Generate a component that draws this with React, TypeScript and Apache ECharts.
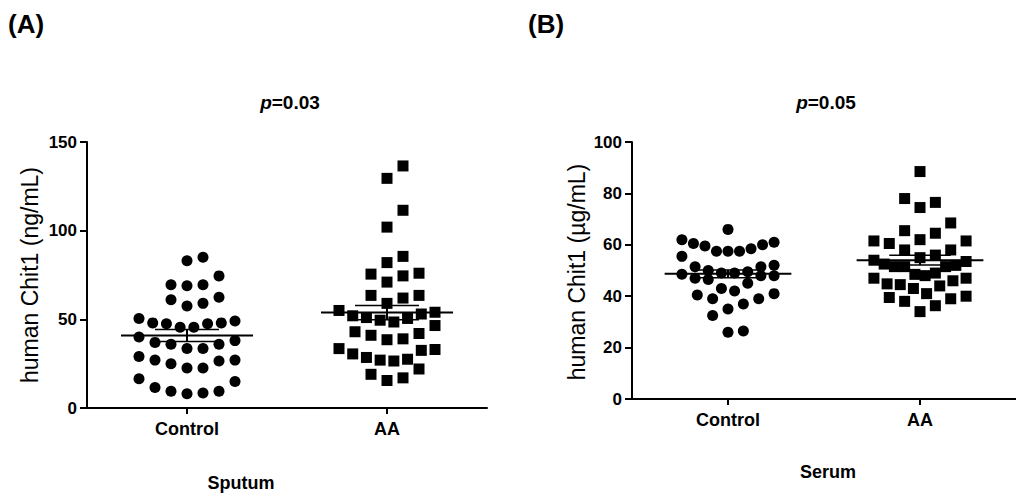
import React, { useEffect, useRef } from "react";
import * as echarts from "echarts";

// ---- data ----
const groups = ["Control", "AA"];

const sputumControl = [
  85, 83, 74.5, 69.5, 69, 69.5, 61, 57.5, 59, 62.5, 48, 47.5, 45.5, 49, 50.5, 45.5, 47.5, 48,
  40, 37, 36, 33.5, 33.5, 36, 38, 27, 26.5, 22.5, 22.5, 25, 27, 29, 16.5, 11.5, 9.5, 8, 8.5, 9.5, 15,
];
const sputumAA = [
  136.5, 129.5, 111.5, 102, 85.5, 82, 76, 74.5, 75.5, 71, 63.5, 63.5, 62, 59, 55, 54, 53, 52, 51,
  50.5, 49.5, 48.5, 46.5, 43, 42, 41, 39, 38.5, 33.5, 33, 32.5, 30.5, 28.5, 27.5, 27, 26.5, 22, 19,
  17, 15.5,
];
const serumControl = [
  66, 62, 60.5, 59.5, 57.5, 57.5, 58.5, 55.5, 60, 57.5, 61, 49, 48, 51.5, 48, 52, 51.5, 49, 49.5,
  50, 47, 46.5, 48.5, 45, 43, 39, 41, 39, 40.5, 37, 42, 35, 32.5, 26, 26.5,
];
const serumAA = [
  88.5, 78, 76.5, 74.5, 68.5, 65.5, 64.5, 62, 61.5, 61.5, 60.5, 58, 58, 56, 55, 54, 53.5, 52.5, 52,
  51.5, 51.5, 51.5, 49, 48.5, 48, 47, 47, 46, 44.8, 44, 44.5, 43, 41, 40, 39.5, 39, 38, 36.3, 34,
];

const sputumMean = [40.9, 53.8];
const sputumSEM = [3.4, 4.0];
const serumMean = [48.7, 54.0];
const serumSEM = [1.5, 1.9];

const sputumTicks = [0, 50, 100, 150];
const serumTicks = [0, 20, 40, 60, 80, 100];

const FONT = "'Liberation Sans', Arial, sans-serif";

// Prism-like dot layout: points grouped into rows, spread center-out
function swarm(values: number[], center: number, rowH: number, step = 0.08) {
  const sorted = [...values].sort((a, b) => a - b);
  const out: number[][] = [];
  const order = [0, 1, -1, 2, -2, 3, -3];
  let i = 0;
  while (i < sorted.length) {
    const start = sorted[i];
    const row: number[] = [];
    while (i < sorted.length && sorted[i] < start + rowH) {
      row.push(sorted[i]);
      i++;
    }
    const n = row.length;
    let slots: number[];
    if (n <= 7) slots = order.slice(0, n);
    else {
      const pos = Array.from({ length: n }, (_, j) => -3 + (6 * j) / (n - 1));
      slots = pos.sort((a, b) => Math.abs(a) - Math.abs(b) || b - a);
    }
    row.forEach((v, k) => out.push([center + slots[k] * step, v]));
  }
  return out;
}

function meanSeries(idx: number, means: number[], sems: number[]) {
  return {
    type: "custom",
    xAxisIndex: idx,
    yAxisIndex: idx,
    z: 10,
    data: means.map((m, k) => [k + 1, m, sems[k]]),
    renderItem: (_p: any, api: any) => {
      const c = api.value(0);
      const m = api.value(1);
      const s = api.value(2);
      const l = api.coord([c - 0.33, m]);
      const r = api.coord([c + 0.33, m]);
      const t = api.coord([c, m + s]);
      const b = api.coord([c, m - s]);
      const cl = api.coord([c - 0.16, m]);
      const cr = api.coord([c + 0.16, m]);
      const st = { stroke: "#000", lineWidth: 2 };
      return {
        type: "group",
        children: [
          { type: "line", shape: { x1: l[0], y1: l[1], x2: r[0], y2: r[1] }, style: st },
          { type: "line", shape: { x1: t[0], y1: t[1], x2: b[0], y2: b[1] }, style: st },
          { type: "line", shape: { x1: cl[0], y1: t[1], x2: cr[0], y2: t[1] }, style: { stroke: "#000", lineWidth: 1.5 } },
          { type: "line", shape: { x1: cl[0], y1: b[1], x2: cr[0], y2: b[1] }, style: { stroke: "#000", lineWidth: 1.5 } },
        ],
      };
    },
  };
}

function xAxis(idx: number) {
  return {
    type: "value",
    gridIndex: idx,
    min: 0.5,
    max: 2.5,
    axisLine: { show: true, lineStyle: { color: "#000", width: 2 } },
    axisTick: { show: true, customValues: [1, 2], length: 6, lineStyle: { color: "#000", width: 2 } },
    axisLabel: {
      show: true,
      customValues: [1, 2],
      formatter: (v: number) => groups[Math.round(v) - 1] ?? "",
      color: "#000",
      fontFamily: FONT,
      fontWeight: "bold",
      fontSize: 18,
      margin: 12,
    },
    splitLine: { show: false },
  };
}

function yAxis(idx: number, ticks: number[]) {
  return {
    type: "value",
    gridIndex: idx,
    min: ticks[0],
    max: ticks[ticks.length - 1],
    interval: ticks[1] - ticks[0],
    axisLine: { show: true, lineStyle: { color: "#000", width: 2 } },
    axisTick: { show: true, length: 7, lineStyle: { color: "#000", width: 2 } },
    axisLabel: { color: "#000", fontFamily: FONT, fontWeight: "bold", fontSize: 17, margin: 10 },
    splitLine: { show: false },
  };
}

function txt(x: number, y: number, text: string, size: number, weight = "bold", rotation = 0, align = "center") {
  return {
    type: "text",
    x,
    y,
    rotation,
    style: {
      text,
      fill: "#000",
      fontFamily: FONT,
      fontSize: size,
      fontWeight: weight,
      align,
      verticalAlign: "middle",
    },
  };
}

function pText(x: number, y: number, val: string) {
  return {
    type: "text",
    x,
    y,
    style: {
      text: `{i|p}{n|=${val}}`,
      align: "center",
      verticalAlign: "middle",
      rich: {
        i: { fontStyle: "italic", fontWeight: "bold", fontSize: 19, fontFamily: FONT, fill: "#000" },
        n: { fontWeight: "bold", fontSize: 19, fontFamily: FONT, fill: "#000" },
      },
    },
  };
}

export default function App() {
  const ref = useRef<HTMLDivElement>(null);
  useEffect(() => {
    if (!ref.current) return;
    const chart = echarts.init(ref.current, undefined, { renderer: "svg" });
    const dot = { color: "#000", opacity: 1 };
    chart.setOption({
      animation: false,
      backgroundColor: "#fff",
      grid: [
        { left: 87, top: 142, width: 400, height: 266 },
        { left: 632, top: 142, width: 387, height: 257 },
      ],
      xAxis: [xAxis(0), xAxis(1)],
      yAxis: [yAxis(0, sputumTicks), yAxis(1, serumTicks)],
      series: [
        { type: "scatter", xAxisIndex: 0, yAxisIndex: 0, symbol: "circle", symbolSize: 11, itemStyle: dot, data: swarm(sputumControl, 1, 10) },
        { type: "scatter", xAxisIndex: 0, yAxisIndex: 0, symbol: "rect", symbolSize: 11, itemStyle: dot, data: swarm(sputumAA, 2, 10) },
        { type: "scatter", xAxisIndex: 1, yAxisIndex: 1, symbol: "circle", symbolSize: 11, itemStyle: dot, data: swarm(serumControl, 1, 7) },
        { type: "scatter", xAxisIndex: 1, yAxisIndex: 1, symbol: "rect", symbolSize: 11, itemStyle: dot, data: swarm(serumAA, 2, 7) },
        meanSeries(0, sputumMean, sputumSEM),
        meanSeries(1, serumMean, serumSEM),
      ],
      graphic: [
        txt(8, 24, "(A)", 26, "bold", 0, "left"),
        txt(528, 24, "(B)", 26, "bold", 0, "left"),
        pText(290, 102, "0.03"),
        pText(826, 102, "0.05"),
        txt(241, 483, "Sputum", 18),
        txt(828, 472, "Serum", 18),
        txt(30, 275, "human Chit1 (ng/mL)", 23, "normal", Math.PI / 2),
        txt(577, 272, "human Chit1 (\u00b5g/mL)", 23, "normal", Math.PI / 2),
      ],
    });
    return () => chart.dispose();
  }, []);
  return (
    <div
      ref={ref}
      style={{ position: "fixed", left: 0, top: 0, width: 1016, height: 496, background: "#fff" }}
    />
  );
}
